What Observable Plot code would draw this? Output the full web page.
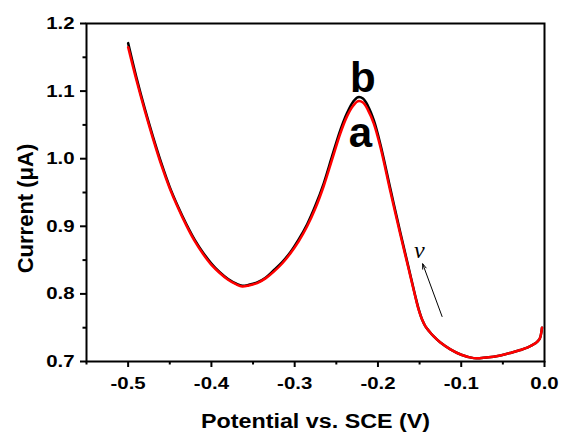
<!DOCTYPE html>
<html><head><meta charset="utf-8">
<script src="https://cdn.jsdelivr.net/npm/d3@7"></script>
<script src="https://cdn.jsdelivr.net/npm/@observablehq/plot@0.6"></script>
<style>html,body{margin:0;padding:0;background:#fff;overflow:hidden}</style>
</head><body><div id="chart"></div>
<script>
const potential = [-0.500,-0.490,-0.480,-0.470,-0.460,-0.450,-0.440,-0.430,-0.420,-0.410,-0.400,-0.390,-0.380,-0.370,-0.363,-0.355,-0.345,-0.335,-0.325,-0.315,-0.305,-0.295,-0.285,-0.275,-0.265,-0.255,-0.245,-0.237,-0.230,-0.224,-0.218,-0.212,-0.205,-0.197,-0.185,-0.173,-0.163,-0.155,-0.151,-0.147,-0.143,-0.138,-0.133,-0.125,-0.113,-0.100,-0.085,-0.070,-0.053,-0.040,-0.029,-0.020,-0.011,-0.006,-0.003];
const currentA = [1.165,1.116,1.071,1.029,0.990,0.956,0.927,0.901,0.878,0.859,0.843,0.831,0.821,0.814,0.811,0.8125,0.816,0.823,0.833,0.845,0.860,0.878,0.900,0.927,0.960,0.999,1.038,1.063,1.078,1.085,1.083,1.072,1.052,1.017,0.951,0.887,0.836,0.795,0.776,0.762,0.752,0.744,0.737,0.728,0.718,0.710,0.705,0.706,0.709,0.713,0.717,0.721,0.727,0.733,0.750];
const currentB = [1.171,1.120,1.074,1.032,0.993,0.958,0.929,0.903,0.880,0.861,0.845,0.832,0.822,0.815,0.812,0.8135,0.817,0.824,0.835,0.847,0.862,0.881,0.903,0.931,0.964,1.004,1.043,1.068,1.084,1.091,1.089,1.078,1.057,1.021,0.955,0.890,0.838,0.796,0.777,0.762,0.752,0.744,0.737,0.728,0.718,0.710,0.705,0.706,0.709,0.713,0.717,0.721,0.727,0.733,0.750];
const xMajorTicks = [-0.5,-0.4,-0.3,-0.2,-0.1,0.0];
const xMinorTicks = [-0.55,-0.45,-0.35,-0.25,-0.15,-0.05];
const yMajorTicks = [0.7,0.8,0.9,1.0,1.1,1.2];
const yMinorTicks = [0.75,0.85,0.95,1.05,1.15];
const xLabel = "Potential vs. SCE (V)";
const yLabel = "Current (μA)";
const curveLabels = [{x:-0.2182,y:1.098,text:"b"},{x:-0.2212,y:1.0166,text:"a"}];
const scanLabel = [{x:-0.1502,y:0.8538,text:"ν"}];
const scanArrow = [{x1:-0.1230,y1:0.7666,x2:-0.1463,y2:0.8445}];

const rows = potential.map((x,i)=>({x, a: currentA[i], b: currentB[i]}));
const fmt = d => d.toFixed(1);
const FONT = "'Liberation Sans', Arial, sans-serif";
const plot = Plot.plot({
  width:561, height:433, marginLeft:86, marginRight:17, marginTop:23, marginBottom:72,
  style:{fontFamily:FONT, fontWeight:"bold", fontSize:"17px", color:"#000", background:"#fff"},
  x:{domain:[-0.55,0]},
  y:{domain:[0.7,1.2]},
  marks:[
    Plot.axisX(xMajorTicks,{tickSize:6, tickPadding:9, tickFormat:fmt, strokeWidth:2, label:null, fontSize:17, fontWeight:"bold", fontFamily:FONT, fill:"#000", stroke:"#000"}),
    Plot.axisX(xMinorTicks,{tickSize:3.5, text:null, strokeWidth:2, label:null, stroke:"#000"}),
    Plot.axisY(yMajorTicks,{tickSize:6, tickPadding:6, tickFormat:fmt, strokeWidth:2, label:null, fontSize:17, fontWeight:"bold", fontFamily:FONT, fill:"#000", stroke:"#000"}),
    Plot.axisY(yMinorTicks,{tickSize:3.5, text:null, strokeWidth:2, label:null, stroke:"#000"}),
    Plot.frame({stroke:"#000", strokeWidth:2}),
    Plot.line(rows,{x:"x", y:"b", stroke:"#000", strokeWidth:2.5, curve:"catmull-rom"}),
    Plot.line(rows,{x:"x", y:"a", stroke:"#ff0000", strokeWidth:2.5, curve:"catmull-rom"}),
    Plot.text(curveLabels,{x:"x", y:"y", text:"text", fontSize:42, fontWeight:"bold", lineAnchor:"bottom", textAnchor:"middle", fill:"#000"}),
    Plot.text(scanLabel,{x:"x", y:"y", text:"text", fontSize:24, fontWeight:"normal", fontStyle:"italic", fontFamily:"'Liberation Serif', 'Times New Roman', serif", lineAnchor:"bottom", textAnchor:"middle", fill:"#000"}),
    Plot.arrow(scanArrow,{x1:"x1", y1:"y1", x2:"x2", y2:"y2", stroke:"#000", strokeWidth:1, headLength:8, headAngle:40}),
    Plot.text([xLabel],{text:d=>d, frameAnchor:"bottom", dy:66, lineAnchor:"bottom", textAnchor:"middle", fontSize:21, fontWeight:"bold", fill:"#000"}),
    Plot.text([yLabel],{text:d=>d, frameAnchor:"left", rotate:-90, dx:-54, dy:16, lineAnchor:"bottom", textAnchor:"middle", fontSize:22, fontWeight:"bold", fill:"#000"})
  ]
});
document.getElementById("chart").appendChild(plot);
// horizontal stretch of the tick labels and x title, as in the reference
const tickSet = new Set([...xMajorTicks, ...yMajorTicks].map(fmt));
plot.querySelectorAll("text").forEach(t=>{
  const s = tickSet.has(t.textContent) ? 1.2 : (t.textContent === xLabel ? 1.11 : null);
  if (!s) return;
  const x = parseFloat(t.getAttribute("x")) || 0;
  const tr = t.getAttribute("transform") || "";
  t.setAttribute("transform", `${tr} translate(${x},0) scale(${s},1) translate(${-x},0)`);
});
</script>
</body></html>
